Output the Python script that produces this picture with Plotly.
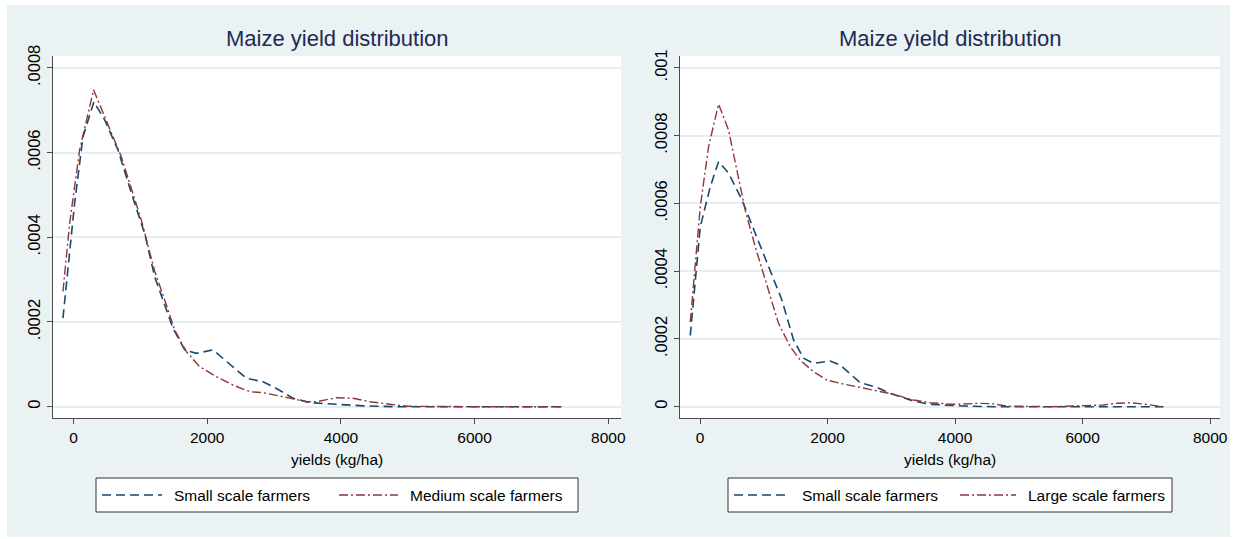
import plotly.graph_objects as go

W, H = 1236, 539

# ---- data ----
left_small_x = [-158, 16, 141, 305, 466, 665, 915, 1064, 1214, 1488, 1663, 1838, 2087, 2237,
                2587, 2835, 3036, 3284, 3535, 3934, 4333, 4800, 5500, 6200, 7300]
left_small_y = [0.000209, 0.00048, 0.000637, 0.00072, 0.000677, 0.000606, 0.00048, 0.000409,
                0.000307, 0.000185, 0.000134, 0.000126, 0.000134, 0.000114, 0.000067, 0.000059,
                0.000043, 0.00002, 0.0000095, 0.0000057, 0.000002, 0.0, 0.0, 0.0, 0.0]

left_medium_x = [-158, -58, 91, 191, 300, 466, 715, 1015, 1214, 1364, 1513, 1688, 1888, 2137,
                 2386, 2636, 2835, 3135, 3485, 3635, 3934, 4183, 4432, 4732, 5000, 6000, 7300]
left_medium_y = [0.000272, 0.000433, 0.000606, 0.000677, 0.000748, 0.000685, 0.00059, 0.00044,
                 0.00032, 0.000252, 0.000181, 0.00013, 0.0000944, 0.0000708, 0.0000512, 0.0000354,
                 0.000033, 0.0000236, 0.0000118, 0.0000118, 0.0000212, 0.0000198, 0.0000118,
                 0.0000057, 0.000001, 0.0, 0.0]

right_small_x = [-154, 3, 160, 290, 447, 657, 865, 1074, 1283, 1466, 1622, 1779, 2041, 2197,
                 2511, 2773, 2981, 3347, 3608, 4130, 4600, 5500, 6500, 7265]
right_small_y = [0.00021, 0.000531, 0.000649, 0.000723, 0.000689, 0.00061, 0.000512, 0.000413,
                 0.000315, 0.000197, 0.000143, 0.000128, 0.000135, 0.000123, 0.0000708, 0.0000572,
                 0.0000395, 0.0000168, 0.0000071, 0.000002, 0.0, 0.0, 0.0, 0.0]

right_large_x = [-154, 3, 133, 290, 447, 604, 708, 865, 1074, 1230, 1414, 1570, 1779, 1989, 2197,
                 2511, 2824, 3033, 3347, 3608, 3973, 4392, 4600, 4810, 5500, 6325, 6535, 6743,
                 6951, 7265]
right_large_y = [0.00025, 0.00059, 0.000767, 0.000893, 0.000816, 0.000679, 0.00058, 0.000472,
                 0.000344, 0.000246, 0.000177, 0.000138, 0.000103, 0.0000788, 0.000069, 0.0000572,
                 0.0000443, 0.0000366, 0.0000198, 0.0000118, 0.0000071, 0.00001, 0.0000085,
                 0.000002, 0.0, 0.000005, 0.00001, 0.0000118, 0.000008, 0.0]

x_ticks = [0, 2000, 4000, 6000, 8000]
left_y_ticks = [0, 0.0002, 0.0004, 0.0006, 0.0008]
left_y_labels = ["0", ".0002", ".0004", ".0006", ".0008"]
right_y_ticks = [0, 0.0002, 0.0004, 0.0006, 0.0008, 0.001]
right_y_labels = ["0", ".0002", ".0004", ".0006", ".0008", ".001"]

title_text = "Maize yield distribution"
x_title = "yields (kg/ha)"
left_names = ["Small scale farmers", "Medium scale farmers"]
right_names = ["Small scale farmers", "Large scale farmers"]

# ---- styles ----
NAVY = "#1a476f"
MAROON = "#90353b"
BG = "#eaf2f3"
GRID = "#e4edf0"
AXIS = "#4a4a4a"
TITLE_C = "#1c2b55"
FONT = "Liberation Sans, Arial, sans-serif"
DASH_SMALL = "9px,5px"
DASH_DD = "9px,3px,2px,3px"


def px_x(p):
    return p / W


def px_y(p):
    return 1 - p / H


L_dom = [px_x(53), px_x(621)]
R_dom = [px_x(680), px_x(1220)]
Y_dom = [px_y(418), px_y(56)]

fig = go.Figure()

series = [
    (left_small_x, left_small_y, left_names[0], NAVY, 1.6, DASH_SMALL, "x", "y"),
    (left_medium_x, left_medium_y, left_names[1], MAROON, 1.4, DASH_DD, "x", "y"),
    (right_small_x, right_small_y, right_names[0], NAVY, 1.6, DASH_SMALL, "x2", "y2"),
    (right_large_x, right_large_y, right_names[1], MAROON, 1.4, DASH_DD, "x2", "y2"),
]
for xs, ys, nm, col, wd, ds, xa, ya in series:
    fig.add_trace(go.Scatter(x=xs, y=ys, mode="lines", name=nm,
                             line=dict(color=col, width=wd, dash=ds),
                             xaxis=xa, yaxis=ya, showlegend=False))

axis_common = dict(showline=True, linecolor=AXIS, linewidth=1, ticks="outside",
                   ticklen=5, tickcolor=AXIS, zeroline=False, automargin=False)
xfont = dict(size=15.5, color="black", family=FONT)
yfont = dict(size=16.5, color="black", family=FONT)

shapes = [
    dict(type="rect", xref="paper", yref="paper", x0=px_x(7), x1=px_x(1230),
         y0=px_y(537), y1=px_y(5), fillcolor=BG, line=dict(width=0), layer="below"),
    dict(type="rect", xref="paper", yref="paper", x0=L_dom[0], x1=L_dom[1],
         y0=Y_dom[0], y1=Y_dom[1], fillcolor="white", line=dict(width=0), layer="below"),
    dict(type="rect", xref="paper", yref="paper", x0=R_dom[0], x1=R_dom[1],
         y0=Y_dom[0], y1=Y_dom[1], fillcolor="white", line=dict(width=0), layer="below"),
]
annotations = [
    dict(text=title_text, xref="paper", yref="paper", x=px_x(337), y=px_y(38),
         xanchor="center", yanchor="middle", showarrow=False,
         font=dict(size=22, color=TITLE_C, family=FONT)),
    dict(text=title_text, xref="paper", yref="paper", x=px_x(950), y=px_y(38),
         xanchor="center", yanchor="middle", showarrow=False,
         font=dict(size=22, color=TITLE_C, family=FONT)),
    dict(text=x_title, xref="paper", yref="paper", x=px_x(337), y=px_y(459),
         xanchor="center", yanchor="middle", showarrow=False,
         font=dict(size=15.5, color="black", family=FONT)),
    dict(text=x_title, xref="paper", yref="paper", x=px_x(950), y=px_y(459),
         xanchor="center", yanchor="middle", showarrow=False,
         font=dict(size=15.5, color="black", family=FONT)),
]

# legends: box, line samples and labels (pixel layout)
legend_specs = [
    (96, 578, [(102, 162, 172, left_names[0], NAVY, DASH_SMALL, 1.6),
               (339, 398, 408, left_names[1], MAROON, DASH_DD, 1.4)]),
    (728, 1172, [(734, 790, 800, right_names[0], NAVY, DASH_SMALL, 1.6),
                 (960, 1016, 1026, right_names[1], MAROON, DASH_DD, 1.4)]),
]
LEG_Y0, LEG_Y1, LEG_YC = 478, 512, 495
for bx0, bx1, items in legend_specs:
    shapes.append(dict(type="rect", xref="paper", yref="paper", x0=px_x(bx0), x1=px_x(bx1),
                       y0=px_y(LEG_Y1), y1=px_y(LEG_Y0), fillcolor="white",
                       line=dict(color="#333333", width=1), layer="above"))
    for sx0, sx1, tx, nm, col, ds, wd in items:
        shapes.append(dict(type="line", xref="paper", yref="paper", x0=px_x(sx0), x1=px_x(sx1),
                           y0=px_y(LEG_YC), y1=px_y(LEG_YC),
                           line=dict(color=col, width=wd, dash=ds), layer="above"))
        annotations.append(dict(text=nm, xref="paper", yref="paper", x=px_x(tx), y=px_y(LEG_YC),
                                xanchor="left", yanchor="middle", showarrow=False,
                                font=dict(size=15.5, color="black", family=FONT)))

fig.update_layout(
    width=W, height=H,
    margin=dict(l=0, r=0, t=0, b=0),
    paper_bgcolor="white",
    plot_bgcolor="white",
    font=dict(family=FONT, color="black"),
    showlegend=False,
    xaxis=dict(domain=L_dom, range=[-307, 8190], tickvals=x_ticks, showgrid=False,
               anchor="y", tickfont=xfont, **axis_common),
    yaxis=dict(domain=Y_dom, range=[-0.0000267, 0.000828], tickvals=left_y_ticks,
               ticktext=left_y_labels, tickangle=-90, showgrid=True, gridcolor=GRID,
               gridwidth=1.5, anchor="x", tickfont=yfont, **axis_common),
    xaxis2=dict(domain=R_dom, range=[-315, 8155], tickvals=x_ticks, showgrid=False,
                anchor="y2", tickfont=xfont, **axis_common),
    yaxis2=dict(domain=Y_dom, range=[-0.0000333, 0.0010348], tickvals=right_y_ticks,
                ticktext=right_y_labels, tickangle=-90, showgrid=True, gridcolor=GRID,
                gridwidth=1.5, anchor="x2", tickfont=yfont, **axis_common),
    shapes=shapes,
    annotations=annotations,
)

fig.write_html("out.html",
               config={"displayModeBar": False},
               post_script="document.body.style.margin='0px';document.body.style.overflow='hidden';")
